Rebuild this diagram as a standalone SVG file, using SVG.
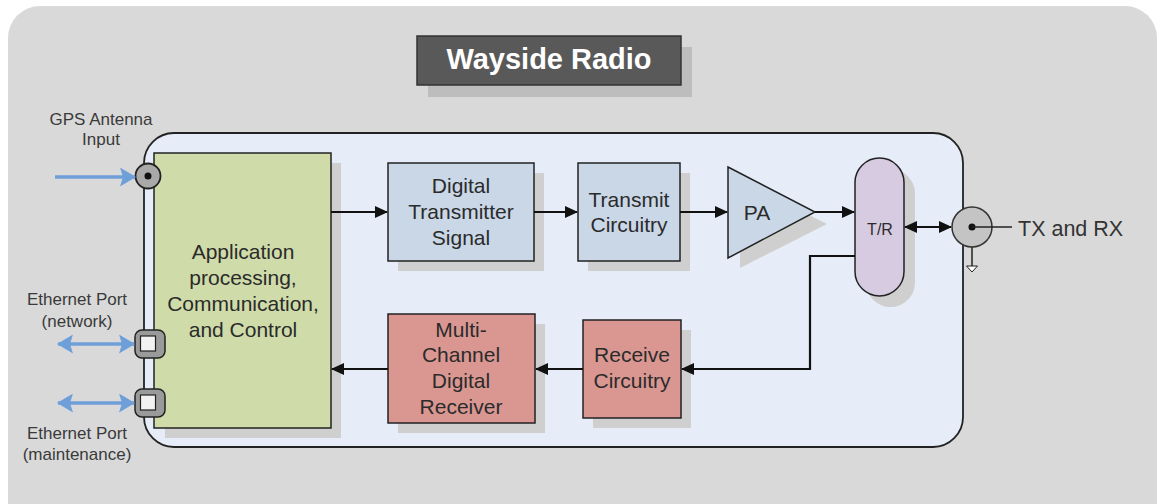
<svg xmlns="http://www.w3.org/2000/svg" width="1160" height="504" viewBox="0 0 1160 504">
<defs>
<style>
.t{font-family:"Liberation Sans",Arial,sans-serif;fill:#2b2b2b;text-anchor:middle}
.lbl{font-size:17px;fill:#3a3a3a}
.blk{font-size:21px}
.ln{stroke:#111;stroke-width:2.2;fill:none}
.blue{stroke:#6f9fd8;stroke-width:3.5;fill:none}
.sh{fill:#cfcfcf}
.box{stroke:#222;stroke-width:1.5}
</style>
<marker id="ah" viewBox="0 0 13 12" refX="12" refY="6" markerWidth="13" markerHeight="12" markerUnits="userSpaceOnUse" orient="auto-start-reverse">
<path d="M0,0 L13,6 L0,12 z" fill="#111"/>
</marker>
<marker id="ab" viewBox="0 0 16 19" refX="15" refY="9.5" markerWidth="16" markerHeight="19" markerUnits="userSpaceOnUse" orient="auto-start-reverse">
<path d="M0,0 L16,9.5 L0,19 L3,9.5 z" fill="#6f9fd8"/>
</marker>
</defs>
<rect width="1160" height="504" fill="#ffffff"/>
<rect id="bg" x="8" y="6" width="1149" height="530" rx="32" fill="#d9d9d9"/>

<g id="title">
<rect x="428" y="47" width="264" height="50" fill="#bdbdbd"/>
<rect x="417" y="36" width="264" height="49" fill="#595959" stroke="#333" stroke-width="1.5"/>
<text x="549" y="69" class="t" style="font-size:29px;font-weight:bold;fill:#ffffff">Wayside Radio</text>
</g>

<g id="container">
<rect x="144" y="133" width="819" height="314" rx="30" fill="#e6edf8" stroke="#222" stroke-width="1.8"/>
</g>

<g id="app">
<rect class="sh" x="165" y="163" width="176" height="275"/>
<rect class="box" x="154" y="153" width="177" height="275" fill="#cfdca9"/>
<text class="t blk"><tspan x="243" y="259">Application</tspan><tspan x="243" y="285">processing,</tspan><tspan x="243" y="311">Communication,</tspan><tspan x="243" y="337">and Control</tspan></text>
</g>

<g id="dts">
<rect class="sh" x="398" y="173" width="146" height="98"/>
<rect class="box" x="388" y="163" width="146" height="98" fill="#c9d7e7"/>
<text class="t blk"><tspan x="461" y="193">Digital</tspan><tspan x="461" y="219">Transmitter</tspan><tspan x="461" y="245">Signal</tspan></text>
</g>

<g id="tc">
<rect class="sh" x="588" y="173" width="102" height="98"/>
<rect class="box" x="578" y="163" width="102" height="98" fill="#c9d7e7"/>
<text class="t blk"><tspan x="629" y="207">Transmit</tspan><tspan x="629" y="232">Circuitry</tspan></text>
</g>

<g id="pa">
<polygon points="740,180 827,224 740,268" fill="#cfcfcf"/>
<polygon points="728,167 815,212 728,258" fill="#c9d7e7" stroke="#222" stroke-width="1.5"/>
<text x="757" y="220" class="t" style="font-size:21px">PA</text>
</g>

<g id="tr">
<rect x="866" y="169" width="49" height="138" rx="24.5" fill="#cfcfcf"/>
<rect x="855" y="158" width="49" height="138" rx="24.5" fill="#d7cbe2" stroke="#222" stroke-width="1.5"/>
<text x="880" y="235" class="t" style="font-size:16px">T/R</text>
</g>

<g id="rc">
<rect class="sh" x="593" y="330" width="98" height="98"/>
<rect class="box" x="583" y="320" width="98" height="98" fill="#da9792"/>
<text class="t blk"><tspan x="632" y="362">Receive</tspan><tspan x="632" y="388">Circuitry</tspan></text>
</g>

<g id="mcdr">
<rect class="sh" x="398" y="324" width="147" height="109"/>
<rect class="box" x="388" y="314" width="147" height="109" fill="#da9792"/>
<text class="t blk"><tspan x="461" y="337">Multi-</tspan><tspan x="461" y="362">Channel</tspan><tspan x="461" y="388">Digital</tspan><tspan x="461" y="414">Receiver</tspan></text>
</g>

<g id="gps">
<text class="t lbl"><tspan x="101" y="125">GPS Antenna</tspan><tspan x="101" y="145">Input</tspan></text>
<circle cx="148" cy="176" r="12.5" fill="#a9a9a9" stroke="#222" stroke-width="1.8"/>
<circle cx="148" cy="176" r="3.5" fill="#111"/>
</g>

<g id="eth-net">
<text class="t lbl"><tspan x="77" y="305">Ethernet Port</tspan><tspan x="77" y="327">(network)</tspan></text>
<rect x="135" y="330" width="30" height="28" rx="7" fill="#9a9a9a" stroke="#222" stroke-width="1.5"/>
<rect x="140.5" y="336" width="15" height="15" fill="#f2f2f2" stroke="#222" stroke-width="1.2"/>
</g>

<g id="eth-maint">
<text class="t lbl"><tspan x="77" y="439">Ethernet Port</tspan><tspan x="77" y="460">(maintenance)</tspan></text>
<rect x="135" y="389" width="30" height="28" rx="7" fill="#9a9a9a" stroke="#222" stroke-width="1.5"/>
<rect x="140.5" y="395" width="15" height="15" fill="#f2f2f2" stroke="#222" stroke-width="1.2"/>
</g>

<g id="coax">
<circle cx="972" cy="227" r="20" fill="#c4c4c4" stroke="#333" stroke-width="1.5"/>
<circle cx="972" cy="227" r="3.5" fill="#111"/>
<line x1="972" y1="227" x2="1012" y2="227" stroke="#222" stroke-width="1.5"/>
<line x1="972" y1="247" x2="972" y2="266" stroke="#222" stroke-width="1.5"/>
<polygon points="966.5,266 977.5,266 972,272" fill="#ffffff" stroke="#222" stroke-width="1"/>
<text x="1018" y="236" class="t" style="font-size:21.5px;text-anchor:start;fill:#333">TX and RX</text>
</g>

<g id="connectors">
<line class="blue" x1="55" y1="177" x2="135" y2="177" marker-end="url(#ab)"/>
<line class="blue" x1="58" y1="344" x2="134" y2="344" marker-start="url(#ab)" marker-end="url(#ab)"/>
<line class="blue" x1="58" y1="403" x2="134" y2="403" marker-start="url(#ab)" marker-end="url(#ab)"/>
<line class="ln" x1="331" y1="212" x2="387" y2="212" marker-end="url(#ah)"/>
<line class="ln" x1="534" y1="212" x2="577" y2="212" marker-end="url(#ah)"/>
<line class="ln" x1="680" y1="212" x2="727" y2="212" marker-end="url(#ah)"/>
<line class="ln" x1="815" y1="212" x2="854" y2="212" marker-end="url(#ah)"/>
<line class="ln" x1="905" y1="227" x2="951" y2="227" marker-start="url(#ah)" marker-end="url(#ah)"/>
<polyline class="ln" points="855,256 810,256 810,369 682,369" marker-end="url(#ah)"/>
<line class="ln" x1="583" y1="369" x2="536" y2="369" marker-end="url(#ah)"/>
<line class="ln" x1="388" y1="369" x2="332" y2="369" marker-end="url(#ah)"/>
</g>
</svg>
